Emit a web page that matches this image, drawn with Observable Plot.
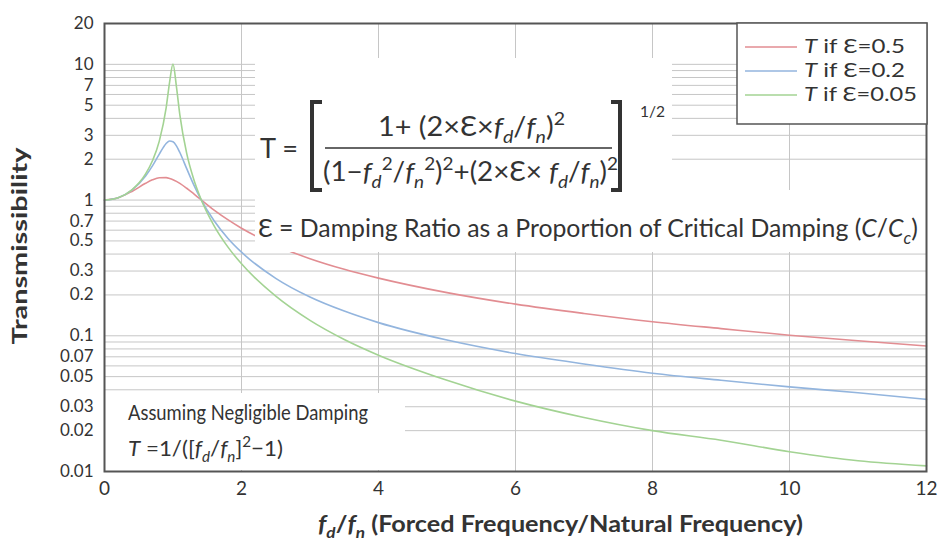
<!DOCTYPE html>
<html><head><meta charset="utf-8">
<script src="https://cdn.jsdelivr.net/npm/d3@7"></script>
<script src="https://cdn.jsdelivr.net/npm/@observablehq/plot@0.6"></script>
<style>
html,body{margin:0;padding:0;background:#fff;}
#chart{width:939px;height:552px;overflow:hidden;}
</style></head><body><div id="chart"></div>
<script>
// ---- data ----
const ratio  = [0, 0.2, 0.4, 0.6, 0.7, 0.8, 0.9, 0.95, 1.0, 1.05, 1.1, 1.2, 1.3, 1.4, 1.6, 1.8, 2.0, 2.5, 3, 3.5, 4, 5, 6, 7, 8, 9, 10, 11, 12];
const T_e05  = [1.00, 1.040, 1.158, 1.329, 1.409, 1.460, 1.463, 1.444, 1.414, 1.374, 1.328, 1.222, 1.114, 1.014, 0.844, 0.717, 0.620, 0.463, 0.370, 0.309, 0.266, 0.208, 0.171, 0.146, 0.127, 0.113, 0.101, 0.092, 0.084];
const T_e02  = [1.00, 1.041, 1.184, 1.505, 1.785, 2.180, 2.611, 2.727, 2.693, 2.509, 2.241, 1.704, 1.305, 1.031, 0.704, 0.524, 0.413, 0.265, 0.193, 0.152, 0.125, 0.093, 0.074, 0.062, 0.053, 0.047, 0.042, 0.038, 0.034];
const T_e005 = [1.00, 1.042, 1.190, 1.559, 1.947, 2.720, 4.776, 7.379, 10.05, 6.852, 4.244, 2.208, 1.436, 1.041, 0.646, 0.452, 0.339, 0.196, 0.130, 0.094, 0.072, 0.047, 0.033, 0.025, 0.020, 0.017, 0.014, 0.012, 0.011];
const seriesNames  = ["T if Ɛ=0.5", "T if Ɛ=0.2", "T if Ɛ=0.05"];
const seriesColors = ["#e28d92", "#93b5de", "#a3d393"];
const yTicks = [20, 10, 7, 5, 3, 2, 1, 0.7, 0.5, 0.3, 0.2, 0.1, 0.07, 0.05, 0.03, 0.02, 0.01];
const xTicks = [0, 2, 4, 6, 8, 10, 12];
const yGrid  = [10, 9, 8, 7, 6, 5, 4, 3, 2, 1, 0.9, 0.8, 0.7, 0.6, 0.5, 0.4, 0.3, 0.2, 0.1, 0.09, 0.08, 0.07, 0.06, 0.05, 0.04, 0.03, 0.02];
const xGrid  = [2, 4, 6, 8, 10];
const yLabel = "Transmissibility";
const xLabelRest = " (Forced Frequency/Natural Frequency)";
const epsText = "Ɛ = Damping Ratio as a Proportion of Critical Damping (";
const noteText = "Assuming Negligible Damping";

const seriesValues = [T_e05, T_e02, T_e005];
const rows = seriesNames.flatMap((s, k) => ratio.map((r, i) => ({r, T: seriesValues[k][i], s})));

const font = "Lato, 'Open Sans', 'DejaVu Sans', sans-serif";
const ink = "#333";

// rich text helpers
const N = t => ({t});
const I = t => ({t, i: true});
const Sb = t => ({t, sub: true, i: true});
const Sp = t => ({t, sup: true});
function rich(g, x, y, segs, o = {}) {
  const size = o.size || 16;
  const t = g.append("text").attr("x", x).attr("y", y)
    .attr("font-size", size).attr("fill", ink)
    .attr("text-anchor", o.anchor || "start");
  if (o.bold) t.attr("font-weight", "bold");
  if (o.len) t.attr("textLength", o.len).attr("lengthAdjust", "spacingAndGlyphs");
  let cur = 0;
  for (const s of segs) {
    const shift = s.sub ? size * 0.28 : s.sup ? -size * 0.42 : 0;
    const ts = t.append("tspan").text(s.t).attr("dy", shift - cur);
    if (s.sub || s.sup) ts.attr("font-size", size * 0.68);
    if (s.i) ts.attr("font-style", "italic");
    cur = shift;
  }
  return t;
}

function whiteBoxes() {
  const g = d3.create("svg:g").attr("fill", "#fff");
  g.append("path").attr("d", "M255,58H672V190H926V252H255Z");
  g.append("rect").attr("x", 105).attr("y", 393).attr("width", 300).attr("height", 77);
  return g.node();
}

function overlay() {
  const g = d3.create("svg:g").attr("font-family", font);
  // legend
  g.append("rect").attr("x", 737).attr("y", 23).attr("width", 190).attr("height", 101)
    .attr("fill", "#fff").attr("stroke", "#555").attr("stroke-width", 1.5);
  seriesNames.forEach((n, i) => {
    const yy = 47 + i * 24;
    g.append("line").attr("x1", 745).attr("x2", 797).attr("y1", yy).attr("y2", yy)
      .attr("stroke", seriesColors[i]).attr("stroke-width", 1.6);
    rich(g, 804, yy + 6, [I(n[0]), N(n.slice(1))], {size: 19, len: i === 2 ? 113 : 101});
  });
  // formula
  rich(g, 260, 158, [N("T =")], {size: 26, len: 38});
  g.append("path").attr("d", "M322,102H312V190H322").attr("fill", "none").attr("stroke", ink).attr("stroke-width", 4);
  g.append("path").attr("d", "M611,102H620V190H611").attr("fill", "none").attr("stroke", ink).attr("stroke-width", 4);
  g.append("line").attr("x1", 325).attr("x2", 612).attr("y1", 148).attr("y2", 148).attr("stroke", ink).attr("stroke-width", 1.5);
  rich(g, 378, 136, [N("1+ (2×Ɛ×"), I("f"), Sb("d"), N("/"), I("f"), Sb("n"), N(")"), Sp("2")], {size: 26, len: 187});
  rich(g, 323, 181, [N("(1−"), I("f"), Sb("d"), Sp("2"), N("/"), I("f"), Sb("n"), Sp("2"), N(")"), Sp("2"),
                     N("+(2×Ɛ× "), I("f"), Sb("d"), N("/"), I("f"), Sb("n"), N(")"), Sp("2")], {size: 26, len: 295});
  rich(g, 640, 117, [N("1/2")], {size: 16, len: 25});
  rich(g, 258, 237, [N(epsText), I("C"), N("/"), I("C"), Sb("c"), N(")")], {size: 24.8});
  // negligible damping note
  rich(g, 128, 420, [N(noteText)], {size: 22, len: 240});
  rich(g, 128, 456, [I("T"), N(" =1/(["), I("f"), Sb("d"), N("/"), I("f"), Sb("n"), N("]"), Sp("2"), N("−1)")], {size: 22, len: 155});
  // axis titles
  rich(g, 318, 532, [I("f"), Sb("d"), N("/"), I("f"), Sb("n"), N(xLabelRest)], {size: 22, bold: true, len: 485});
  g.append("text").attr("transform", "translate(27,246) rotate(-90)").attr("text-anchor", "middle")
    .attr("font-size", 21).attr("font-weight", "bold").attr("fill", ink)
    .attr("textLength", 197).attr("lengthAdjust", "spacingAndGlyphs").text(yLabel);
  return g.node();
}

const plot = Plot.plot({
  width: 939, height: 552,
  marginTop: 23, marginRight: 13, marginBottom: 81, marginLeft: 104,
  style: {fontFamily: font, fontSize: "17px", color: ink, background: "#fff"},
  x: {domain: [0, 12]},
  y: {type: "log", domain: [0.01, 20], axis: null},
  color: {domain: seriesNames, range: seriesColors},
  marks: [
    Plot.ruleY(yGrid, {stroke: "#c6c6c6", strokeWidth: 1}),
    Plot.ruleX(xGrid, {stroke: "#c6c6c6", strokeWidth: 1}),
    Plot.line(rows, {x: "r", y: "T", stroke: "s", z: "s", curve: "monotone-x", strokeWidth: 1.6}),
    whiteBoxes,
    Plot.frame({stroke: "#555", strokeWidth: 2}),
    Plot.axisX({ticks: xTicks, tickSize: 0, tickPadding: 10, label: null, tickFormat: d => String(d), fontSize: 19}),
    Plot.text(yTicks, {y: d => d, text: d => String(d), frameAnchor: "left", textAnchor: "end", dx: -11, fontSize: 17, fill: ink}),
    overlay
  ]
});
document.getElementById("chart").appendChild(plot);
</script></body></html>
